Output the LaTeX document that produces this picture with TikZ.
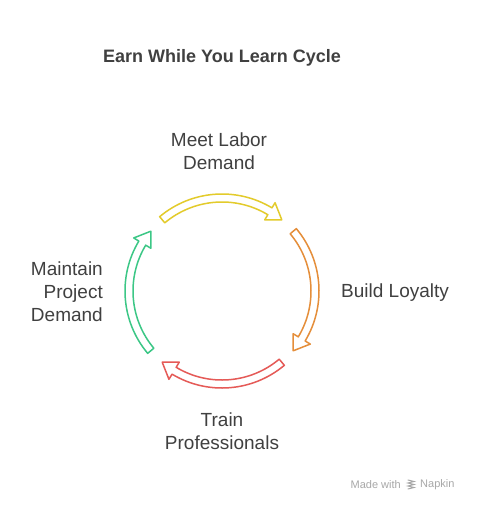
\documentclass[tikz,border=0pt]{standalone}
\usepackage{fontspec}
\setmainfont{Liberation Sans}
\definecolor{cyel}{HTML}{E3CB2B}
\definecolor{cora}{HTML}{E58E3A}
\definecolor{cred}{HTML}{E55A57}
\definecolor{cgrn}{HTML}{3CC786}
\definecolor{ctxt}{HTML}{404040}
\definecolor{cwm}{HTML}{A8A8A8}
\tikzset{
  cyc/.style={line width=1.5pt, fill=white, line join=round},
  lbl/.style={text=ctxt, font=\fontsize{19}{23}\selectfont, inner sep=0pt},
  wm/.style={text=cwm, font=\fontsize{11}{12}\selectfont, inner sep=0pt},
}
\newcommand\cycarrow[3]{%
  \draw[draw=#3, cyc] (#1:97) arc[start angle=#1, end angle={#2+9}, radius=97]
    -- ({#2+9}:103) -- (#2:93) -- ({#2+9}:83) -- ({#2+9}:89)
    arc[start angle={#2+9}, end angle=#1, radius=89] -- cycle;}
\begin{document}
\begin{tikzpicture}[x=1pt,y=-1pt]
\path[fill=white] (0,0) rectangle (479,512);
\node[text=ctxt, font=\bfseries\fontsize{18}{22}\selectfont, inner sep=0pt] (title) at (222,58) {Earn While You Learn Cycle};
\begin{scope}[shift={(222,291)}, y=1pt]
  \cycarrow{130}{50}{cyel}
  \cycarrow{40}{-40}{cora}
  \cycarrow{-50}{-130}{cred}
  \cycarrow{220}{140}{cgrn}
\end{scope}
\node[lbl, align=center] (meet) at (219,151) {Meet Labor\\Demand};
\node[lbl, anchor=west] (build) at (341,293) {Build Loyalty};
\node[lbl, align=center] (train) at (222,431) {Train\\Professionals};
\node[lbl, align=right, anchor=east] (maint) at (103,292) {Maintain\\Project\\Demand};
\node[wm, anchor=east] (made) at (401,485) {Made with};
\node[wm, anchor=west] (napkin) at (420,485) {Napkin};
\begin{scope}[cwm, line width=1pt, line cap=round]
  \draw (408,480) -- (414,481.5) -- (408,483) -- (414,484.5) -- (408,486) -- (414,487.5) -- (408,489);
\end{scope}
\end{tikzpicture}
\end{document}
